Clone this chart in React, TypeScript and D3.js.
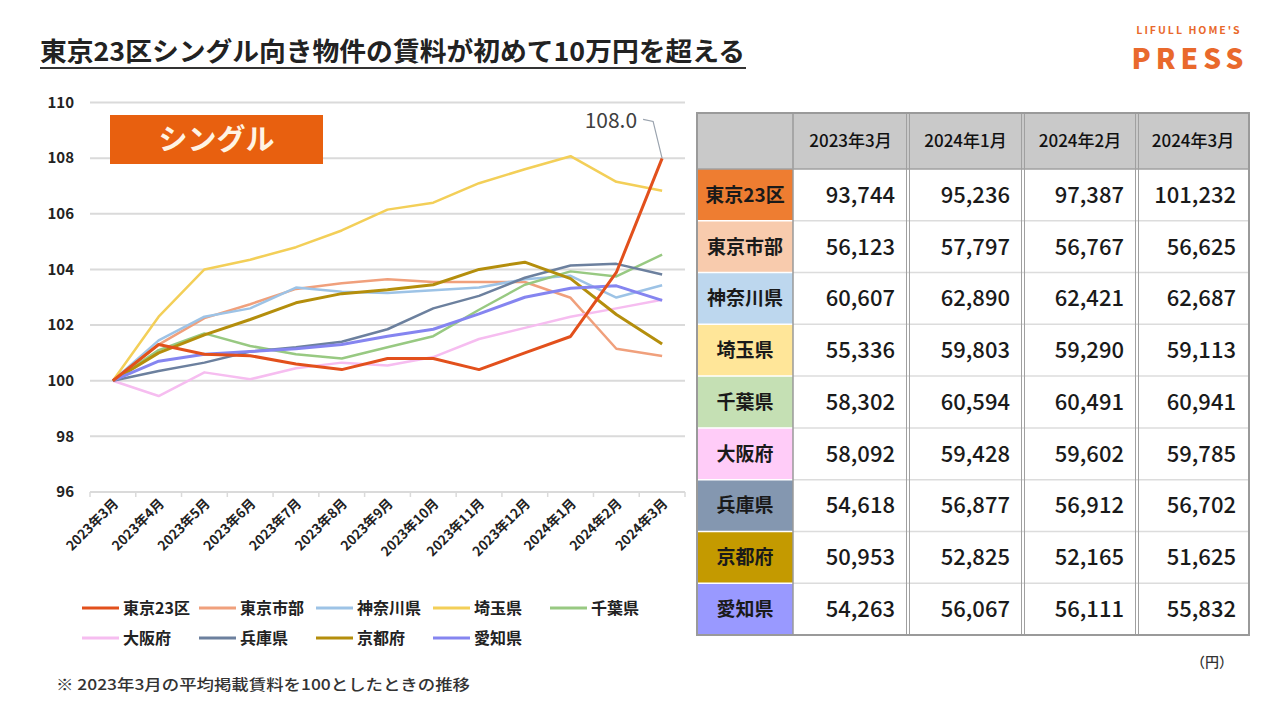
import React from "react";
import * as d3 from "d3";

// ---------- DATA ----------
const months = [
  "2023年3月", "2023年4月", "2023年5月", "2023年6月", "2023年7月", "2023年8月", "2023年9月",
  "2023年10月", "2023年11月", "2023年12月", "2024年1月", "2024年2月", "2024年3月",
];

const seriesNames = ["東京23区", "東京市部", "神奈川県", "埼玉県", "千葉県", "大阪府", "兵庫県", "京都府", "愛知県"];

const tokyo23 = [100, 101.3, 100.95, 100.9, 100.6, 100.4, 100.8, 100.8, 100.4, 101.0, 101.59, 103.89, 107.99];
const tokyoShibu = [100, 101.3, 102.25, 102.75, 103.3, 103.5, 103.65, 103.55, 103.55, 103.55, 102.98, 101.15, 100.89];
const kanagawa = [100, 101.45, 102.3, 102.6, 103.35, 103.2, 103.15, 103.25, 103.35, 103.65, 103.77, 102.99, 103.43];
const saitama = [100, 102.3, 104.0, 104.35, 104.8, 105.4, 106.15, 106.4, 107.1, 107.6, 108.07, 107.15, 106.83];
const chiba = [100, 101.1, 101.7, 101.25, 100.95, 100.8, 101.2, 101.6, 102.55, 103.45, 103.93, 103.75, 104.53];
const osaka = [100, 99.45, 100.3, 100.05, 100.45, 100.65, 100.55, 100.85, 101.5, 101.9, 102.3, 102.6, 102.91];
const hyogo = [100, 100.35, 100.65, 101.05, 101.2, 101.4, 101.85, 102.6, 103.05, 103.7, 104.14, 104.2, 103.82];
const kyoto = [100, 101.0, 101.65, 102.2, 102.8, 103.13, 103.27, 103.45, 104.0, 104.26, 103.67, 102.38, 101.32];
const aichi = [100, 100.7, 100.95, 101.05, 101.15, 101.3, 101.6, 101.85, 102.4, 103.0, 103.32, 103.41, 102.89];

const seriesValues = [tokyo23, tokyoShibu, kanagawa, saitama, chiba, osaka, hyogo, kyoto, aichi];
const lineColors = ["#E2501C", "#F0A07C", "#9DC3E6", "#F3CF58", "#98C982", "#F6BDF0", "#6C809E", "#B48E0C", "#8585F0"];
const lineWidths = [3, 2.5, 2.5, 2.5, 2.5, 2.5, 2.5, 3, 3];

const yTicks = [96, 98, 100, 102, 104, 106, 108, 110];

const tableColumns = ["2023年3月", "2024年1月", "2024年2月", "2024年3月"];
const tableCellColors = ["#EE7D31", "#F8CBAD", "#BDD7EE", "#FFE699", "#C5E0B4", "#FFCCF8", "#8497B0", "#C49A00", "#9999FF"];
const rentTokyo23 = [93744, 95236, 97387, 101232];
const rentTokyoShibu = [56123, 57797, 56767, 56625];
const rentKanagawa = [60607, 62890, 62421, 62687];
const rentSaitama = [55336, 59803, 59290, 59113];
const rentChiba = [58302, 60594, 60491, 60941];
const rentOsaka = [58092, 59428, 59602, 59785];
const rentHyogo = [54618, 56877, 56912, 56702];
const rentKyoto = [50953, 52825, 52165, 51625];
const rentAichi = [54263, 56067, 56111, 55832];
const rentRows = [rentTokyo23, rentTokyoShibu, rentKanagawa, rentSaitama, rentChiba, rentOsaka, rentHyogo, rentKyoto, rentAichi];

const titleText = "東京23区シングル向き物件の賃料が初めて10万円を超える";
const footnote = "※ 2023年3月の平均掲載賃料を100としたときの推移";

// ---------- LAYOUT ----------
const W = 1280;
const H = 720;
const FONT = "'Noto Sans CJK JP', 'Noto Sans', sans-serif";
const plotLeft = 90;
const plotRight = 685;
const plotTop = 102.5;
const plotBottom = 492;

export default function App() {
  const x = d3.scaleBand<string>().domain(months).range([plotLeft, plotRight]).paddingInner(0).paddingOuter(0);
  const y = d3.scaleLinear().domain([96, 110]).range([plotBottom, plotTop]);
  const cx = (m: string) => (x(m) as number) + x.bandwidth() / 2;

  const line = d3
    .line<number>()
    .x((_, i) => cx(months[i]))
    .y((d) => y(d));

  const drawOrder = [1, 2, 3, 4, 5, 6, 7, 8, 0];

  // table layout
  const colEdges = [697, 793, 908, 1023, 1137, 1249];
  const tableTop = 113;
  const headerBottom = 169;
  const tableBottom = 635;
  const rowScale = d3.scaleBand<string>().domain(seriesNames).range([headerBottom, tableBottom]);
  const fmt = d3.format(",");

  const lastIdx = months.length - 1;
  const annX = cx(months[lastIdx]);
  const annY = y(tokyo23[lastIdx]);

  return (
    <svg
      width={W}
      height={H}
      viewBox={`0 0 ${W} ${H}`}
      style={{ position: "fixed", left: 0, top: 0, background: "#fff" }}
      fontFamily={FONT}
    >
      <rect x={0} y={0} width={W} height={H} fill="#fff" />

      {/* Title */}
      <text x={40} y={61} fontSize={26} fontWeight={700} fill="#222" textLength={705} lengthAdjust="spacingAndGlyphs">
        {titleText}
      </text>
      <line x1={40} x2={746} y1={68} y2={68} stroke="#333" strokeWidth={2} />

      {/* Logo */}
      <text x={1189} y={34} fontSize={10.5} fontWeight={700} fill="#E9692C" textAnchor="middle" letterSpacing={2}>
        LIFULL HOME'S
      </text>
      <text x={1190} y={69} fontSize={28} fontWeight={900} fill="#E9692C" textAnchor="middle" letterSpacing={5}>
        PRESS
      </text>

      {/* Gridlines */}
      {yTicks.map((t) => (
        <g key={t}>
          <line x1={plotLeft} x2={plotRight} y1={y(t)} y2={y(t)} stroke="#DADADA" strokeWidth={2} />
          <text x={74} y={y(t)} dy="0.35em" fontSize={15} fontWeight={700} fill="#222" textAnchor="end">
            {t}
          </text>
        </g>
      ))}
      {/* category ticks */}
      {months.concat([""]).map((m, i) => {
        const xx = plotLeft + i * x.bandwidth();
        return <line key={"t" + i} x1={xx} x2={xx} y1={plotBottom} y2={plotBottom + 5} stroke="#DADADA" strokeWidth={1.5} />;
      })}
      {months.map((m) => (
        <text
          key={m}
          transform={`translate(${cx(m) + 3},${plotBottom + 9}) rotate(-45)`}
          fontSize={13.5}
          fontWeight={600}
          fill="#222"
          textAnchor="end"
          dy="0.35em"
        >
          {m}
        </text>
      ))}

      {/* Single label */}
      <rect x={110} y={115} width={213} height={49} fill="#E8600F" />
      <text x={216.5} y={140} dy="0.36em" fontSize={29} fontWeight={700} fill="#FFF4E4" textAnchor="middle">
        シングル
      </text>

      {/* Lines */}
      {drawOrder.map((si) => (
        <path
          key={seriesNames[si]}
          d={line(seriesValues[si]) || ""}
          fill="none"
          stroke={lineColors[si]}
          strokeWidth={lineWidths[si]}
          strokeLinejoin="round"
        />
      ))}

      {/* Annotation */}
      <path d={`M${annX - 19},${annY - 39} L${annX - 9},${annY - 37} L${annX},${annY}`} fill="none" stroke="#9AA3AE" strokeWidth={1.2} />
      <text x={annX - 25} y={annY - 38} dy="0.35em" fontSize={21} fill="#404040" textAnchor="end">
        {tokyo23[lastIdx].toFixed(1)}
      </text>

      {/* Legend */}
      {seriesNames.map((name, i) => {
        const col = i < 5 ? i : i - 5;
        const row = i < 5 ? 0 : 1;
        const lx = 82 + col * 117;
        const ly = row === 0 ? 608 : 638;
        return (
          <g key={"lg" + name}>
            <line x1={lx} x2={lx + 37} y1={ly} y2={ly} stroke={lineColors[i]} strokeWidth={3} />
            <text x={lx + 41} y={ly} dy="0.35em" fontSize={16} fontWeight={700} fill="#222">
              {name}
            </text>
          </g>
        );
      })}

      {/* Footnote */}
      <text x={56} y={685} dy="0.35em" fontSize={15} fontWeight={500} fill="#333" textLength={414} lengthAdjust="spacingAndGlyphs">
        {footnote}
      </text>

      {/* Table */}
      <rect x={colEdges[0]} y={tableTop} width={colEdges[5] - colEdges[0]} height={headerBottom - tableTop} fill="#C9C9C9" />
      {tableColumns.map((c, j) => (
        <text
          key={c}
          x={(colEdges[j + 1] + colEdges[j + 2]) / 2}
          y={(tableTop + headerBottom) / 2}
          dy="0.36em"
          fontSize={17}
          fontWeight={500}
          fill="#111"
          textAnchor="middle"
        >
          {c}
        </text>
      ))}
      {seriesNames.map((name, i) => {
        const ry = rowScale(name) as number;
        const rh = rowScale.bandwidth();
        return (
          <g key={"row" + name}>
            <rect x={colEdges[0]} y={ry} width={colEdges[1] - colEdges[0]} height={rh} fill={tableCellColors[i]} />
            <text x={(colEdges[0] + colEdges[1]) / 2} y={ry + rh / 2} dy="0.36em" fontSize={19} fontWeight={700} fill="#1a1a1a" textAnchor="middle">
              {name}
            </text>
            {rentRows[i].map((v, j) => (
              <text key={j} x={colEdges[j + 2] - 13} y={ry + rh / 2} dy="0.36em" fontSize={22} fontWeight={500} fill="#1a1a1a" textAnchor="end">
                {fmt(v)}
              </text>
            ))}
            {i > 0 && (
              <>
                <line x1={colEdges[0]} x2={colEdges[1]} y1={ry} y2={ry} stroke="#ffffff" strokeWidth={1.5} />
                <line x1={colEdges[1]} x2={colEdges[5]} y1={ry} y2={ry} stroke="#DCDCDC" strokeWidth={1.5} />
              </>
            )}
          </g>
        );
      })}
      {/* vertical borders */}
      {colEdges.slice(1, 5).map((cxE, j) => (
        <g key={"v" + j}>
          {j === 0 ? (
            <line x1={cxE} x2={cxE} y1={tableTop} y2={tableBottom} stroke="#9A9A9A" strokeWidth={1.5} />
          ) : (
            <>
              <line x1={cxE - 1.5} x2={cxE - 1.5} y1={tableTop} y2={tableBottom} stroke="#A0A0A0" strokeWidth={1} />
              <line x1={cxE + 1.5} x2={cxE + 1.5} y1={tableTop} y2={tableBottom} stroke="#A0A0A0" strokeWidth={1} />
            </>
          )}
        </g>
      ))}
      <line x1={colEdges[0]} x2={colEdges[5]} y1={headerBottom} y2={headerBottom} stroke="#A0A0A0" strokeWidth={1.5} />
      <rect
        x={colEdges[0]}
        y={tableTop}
        width={colEdges[5] - colEdges[0]}
        height={tableBottom - tableTop}
        fill="none"
        stroke="#9A9A9A"
        strokeWidth={2}
      />
      <text x={1233} y={662} dy="0.35em" fontSize={14} fontWeight={500} fill="#333" textAnchor="end">
        （円）
      </text>
    </svg>
  );
}
